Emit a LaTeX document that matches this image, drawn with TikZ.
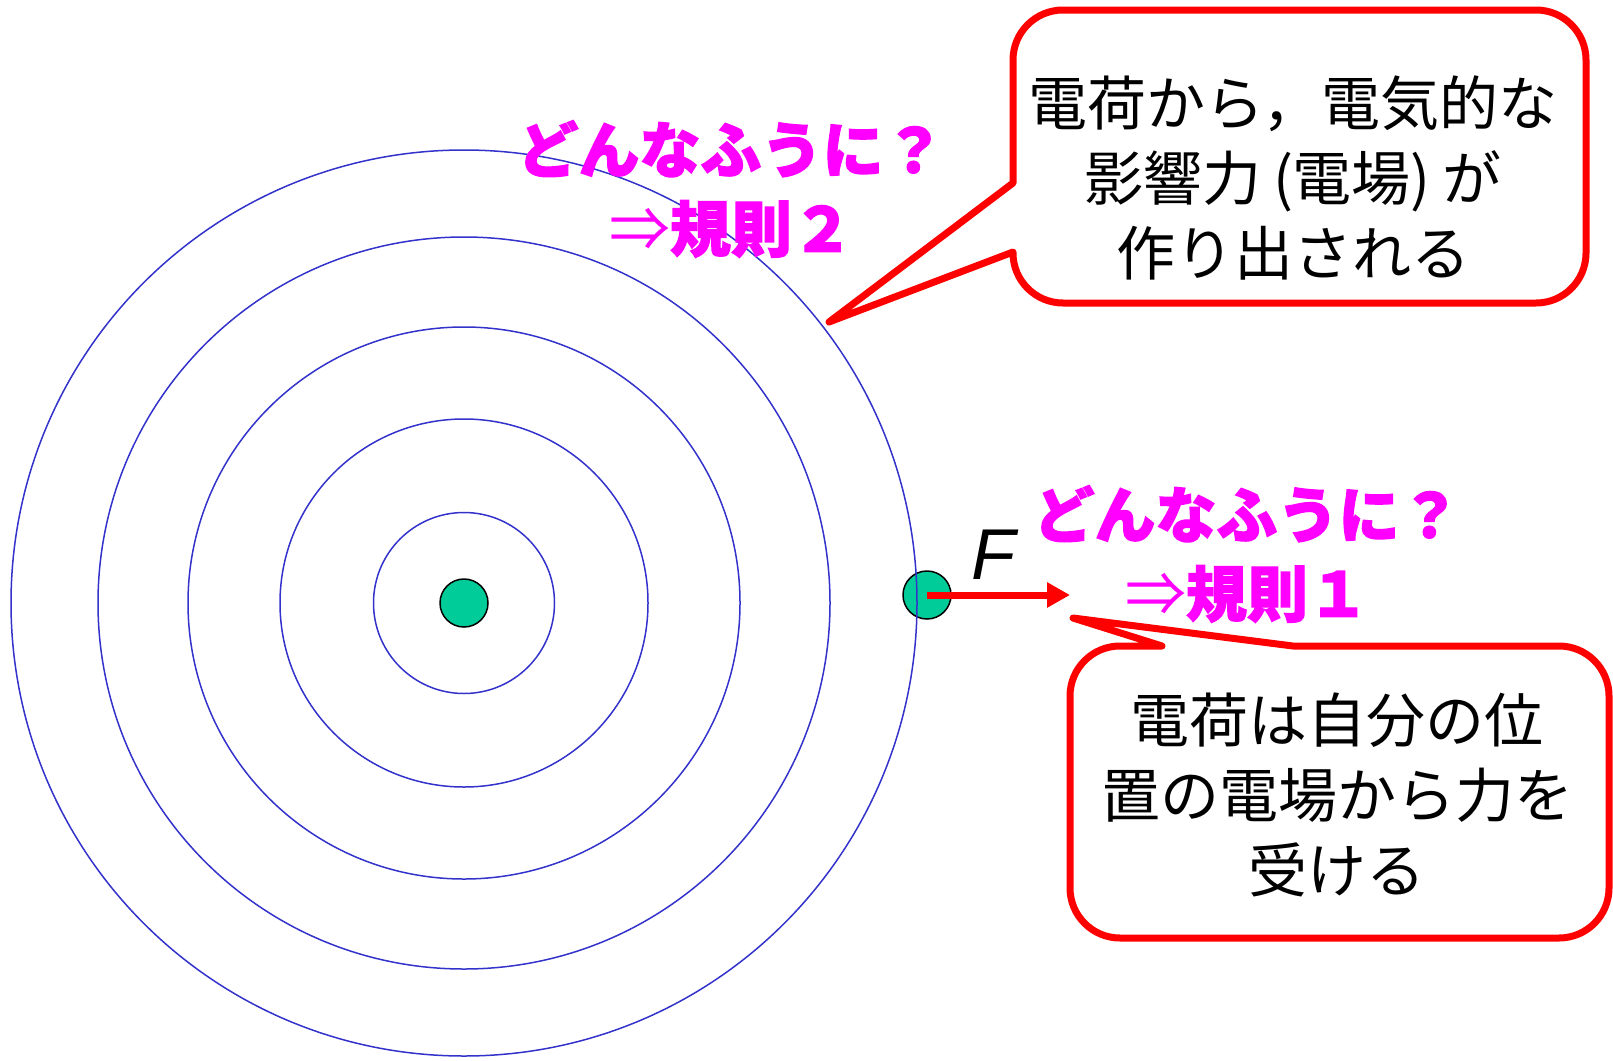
\documentclass[tikz,border=0pt]{standalone}
\usepackage{fontspec}
\usetikzlibrary{arrows.meta}
\newfontfamily\jp{Noto Sans CJK JP}
\newfontfamily\jppop[BoldFeatures={FakeBold=2}]{Noto Sans CJK JP}
\newfontfamily\fsans{Liberation Sans}
\definecolor{ringblue}{RGB}{51,51,204}
\definecolor{chargegreen}{RGB}{0,204,153}
\definecolor{popmag}{RGB}{255,0,255}
\begin{document}
\begin{tikzpicture}[x=1pt,y=-1pt,
  ring/.style={circle,draw=ringblue,line width=1.5pt,inner sep=0pt},
  charge/.style={circle,draw=black,line width=1.5pt,fill=chargegreen,minimum size=48pt,inner sep=0pt},
  calloutline/.style={draw=red,line width=7pt,line join=round,fill=white},
  bodytext/.style={align=center,inner sep=0pt,font=\jp\fontsize{59}{75}\selectfont},
  poptext/.style={align=center,inner sep=0pt,text=popmag,font=\jppop\bfseries\fontsize{61}{79}\selectfont}]
\useasboundingbox (0,0) rectangle (1613,1060);
% charges
\node[charge] (p) at (927,595) {};
% rings
\node[ring,minimum size=906pt] (r5) at (464,603) {};
\node[ring,minimum size=732pt] (r4) at (464,603) {};
\node[ring,minimum size=552pt] (r3) at (464,603) {};
\node[ring,minimum size=368pt] (r2) at (464,603) {};
\node[ring,minimum size=181pt] (r1) at (464,603) {};
\node[charge] (q) at (464,603) {};
\coordinate (ftip) at (1070,595);
\draw[red,line width=7pt,-{Triangle[length=23pt,width=24pt]}] (p.center) -- (ftip);
\node[font=\fsans\itshape\fontsize{72}{72}\selectfont,inner sep=0pt] (F) at (993,555) {F};
% pop texts
\node[poptext] (q2) at (731,189) {どんなふうに？\\{\mdseries ⇒}規則２};
\node[poptext] (q1) at (1247,554) {どんなふうに？\\{\mdseries ⇒}規則１};
% callout 1
\draw[calloutline] (1013,183) -- (829,322) -- (1013,252) [rounded corners=50pt] -- (1013,303) -- (1586,303) -- (1586,10) -- (1013,10) [sharp corners] -- cycle;
\node[bodytext] (c1) at (1293,178) {電荷から，電気的な\\影響力\hspace{12pt}(電場)\hspace{12pt}が\\作り出される};
% callout 2
\draw[calloutline] (1162,646) -- (1073,618) -- (1293,646) [rounded corners=50pt] -- (1609,646) -- (1609,938) -- (1070,938) -- (1070,646) [sharp corners] -- cycle;
\node[bodytext] (c2) at (1337,795) {電荷は自分の位\\置の電場から力を\\受ける};
\end{tikzpicture}
\end{document}
